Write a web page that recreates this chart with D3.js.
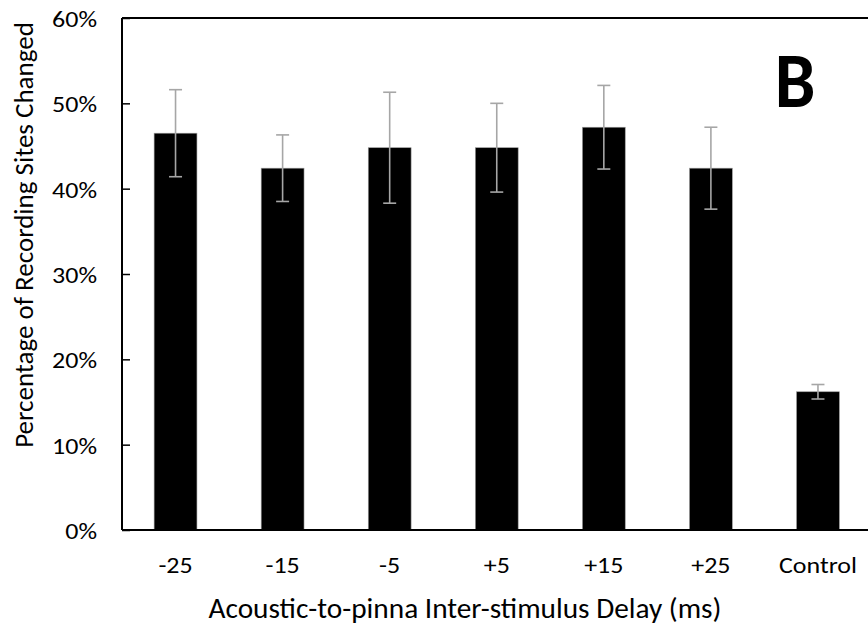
<!DOCTYPE html>
<html>
<head>
<meta charset="utf-8">
<script src="https://cdn.jsdelivr.net/npm/d3@7"></script>
<style>
  html, body { margin: 0; padding: 0; background: #fff; }
  svg { display: block; }
  text { font-family: Carlito, Calibri, "Open Sans", sans-serif; fill: #000; }
</style>
</head>
<body>
<svg id="chart" width="868" height="630"></svg>
<script>
// Delay conditions and percentage of recording sites changed (with error)
const categories = ["-25", "-15", "-5", "+5", "+15", "+25", "Control"];
const values = [46.5, 42.4, 44.8, 44.8, 47.2, 42.4, 16.2];
const errors = [5.1, 3.9, 6.5, 5.2, 4.9, 4.8, 0.85];
const yTicks = [0, 10, 20, 30, 40, 50, 60];

const svg = d3.select("#chart");
const plotLeft = 122, plotRight = 871.5, plotTop = 18, plotBottom = 530;
const labelStretch = 1.13; // tick labels are set slightly wide

const x = d3.scaleBand().domain(categories).range([plotLeft, plotRight]).paddingInner(0.6).paddingOuter(0.3);
const y = d3.scaleLinear().domain([0, 60]).range([plotBottom, plotTop]);

const data = categories.map((c, i) => ({ c, v: values[i], e: errors[i] }));

// bars
svg.append("g").selectAll("rect").data(data).join("rect")
  .attr("x", d => x(d.c))
  .attr("y", d => y(d.v))
  .attr("width", x.bandwidth())
  .attr("height", d => y(0) - y(d.v))
  .attr("fill", "#000")
  .attr("stroke", "#9a9a9a")
  .attr("stroke-width", 0.6);

// error bars
const eg = svg.append("g").attr("stroke", "#a6a6a6").attr("stroke-width", 1.6);
data.forEach(d => {
  const cx = x(d.c) + x.bandwidth() / 2;
  eg.append("line").attr("x1", cx).attr("x2", cx).attr("y1", y(d.v + d.e)).attr("y2", y(d.v - d.e));
  [d.v + d.e, d.v - d.e].forEach(t => {
    eg.append("line").attr("x1", cx - 6.5).attr("x2", cx + 6.5).attr("y1", y(t)).attr("y2", y(t));
  });
});

// top border
svg.append("line").attr("x1", plotLeft).attr("x2", 868).attr("y1", plotTop).attr("y2", plotTop)
  .attr("stroke", "#000").attr("stroke-width", 2);

// y axis with inward ticks
const yAxis = svg.append("g").attr("transform", `translate(${plotLeft},0)`)
  .call(d3.axisLeft(y).tickValues(yTicks).tickFormat(d => d + "%").tickSize(-8));
yAxis.select(".domain").attr("stroke", "#000").attr("stroke-width", 2).attr("d", `M0,${plotTop}V${plotBottom}`);
yAxis.selectAll(".tick line").attr("stroke", "#000").attr("stroke-width", 1.5);
yAxis.selectAll(".tick text")
  .attr("x", 0)
  .attr("transform", `translate(-25,1) scale(${labelStretch},1)`)
  .attr("font-size", 23).attr("font-family", null).attr("fill", "#000");

// x axis without ticks
const xAxis = svg.append("g").attr("transform", `translate(0,${plotBottom})`)
  .call(d3.axisBottom(x).tickSize(0));
xAxis.select(".domain").attr("stroke", "#000").attr("stroke-width", 2).attr("d", `M${plotLeft},0H868`);
xAxis.selectAll(".tick text")
  .attr("y", 0)
  .attr("transform", `translate(0,27) scale(${labelStretch},1)`)
  .attr("font-size", 23).attr("font-family", null).attr("fill", "#000");

// axis titles
svg.append("text").attr("x", 465).attr("y", 618).attr("text-anchor", "middle")
  .attr("font-size", 29.3).text("Acoustic-to-pinna Inter-stimulus Delay (ms)");
svg.append("text").attr("transform", "translate(33,235) rotate(-90)").attr("text-anchor", "middle")
  .attr("font-size", 27).text("Percentage of Recording Sites Changed");

// panel letter
svg.append("text").attr("transform", "translate(795,107) scale(0.93,1)").attr("text-anchor", "middle")
  .attr("font-size", 78).attr("font-weight", "bold").text("B");
</script>
</body>
</html>
